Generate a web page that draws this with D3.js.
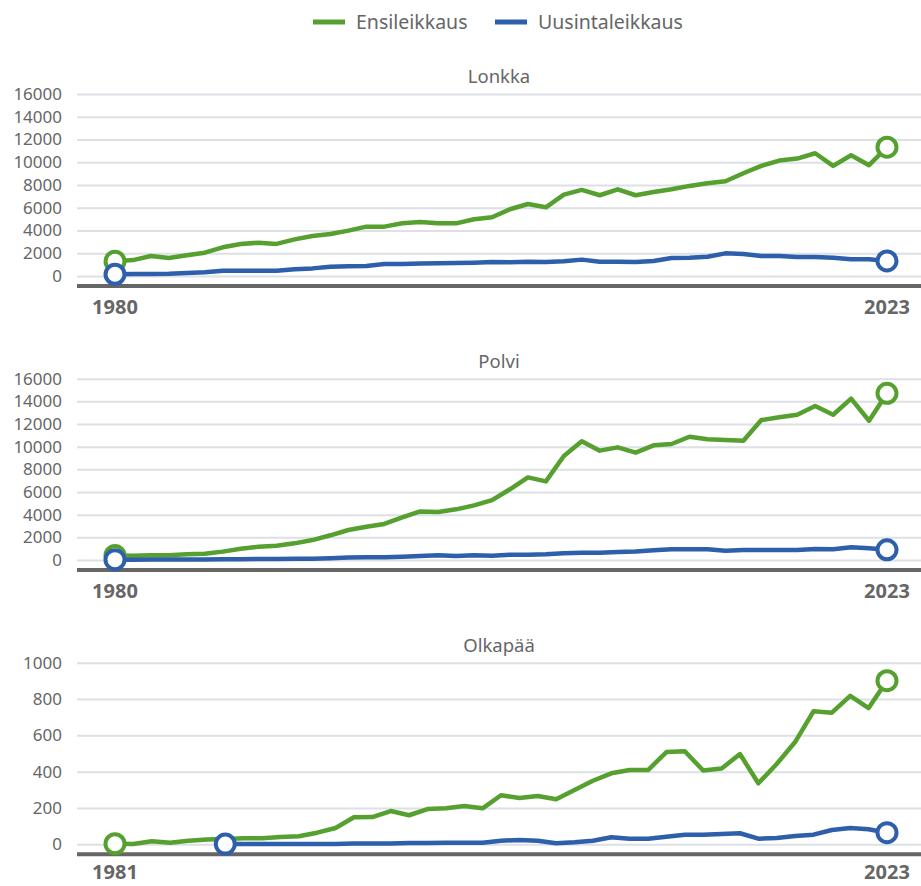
<!DOCTYPE html>
<html>
<head>
<meta charset="utf-8">
<script src="https://cdn.jsdelivr.net/npm/d3@7"></script>
<style>
  body { margin: 0; background: #fff; }
  svg { display: block; font-family: 'Noto Sans', sans-serif; }
</style>
</head>
<body>
<svg id="chart" width="921" height="886"></svg>
<script>
const seriesNames = ['Ensileikkaus', 'Uusintaleikkaus']
const seriesColors = ['#55a02f', '#2e5faa']

const hipYears = d3.range(1980, 2024)
const hipFirst = [1300, 1400, 1760, 1580, 1820, 2050, 2520, 2810, 2930, 2820,
  3220, 3520, 3700, 3990, 4340, 4340, 4630, 4750, 4630, 4630,
  4990, 5160, 5870, 6330, 6040, 7160, 7570, 7100, 7620, 7100,
  7390, 7620, 7920, 8150, 8330, 9030, 9680, 10150, 10320, 10790,
  9680, 10620, 9740, 11320]
const hipRevision = [150, 180, 180, 200, 260, 320, 470, 470, 470, 470,
  590, 670, 820, 850, 880, 1060, 1060, 1090, 1110, 1140,
  1170, 1230, 1200, 1260, 1240, 1290, 1440, 1260, 1260, 1230,
  1320, 1580, 1610, 1700, 1990, 1940, 1760, 1760, 1670, 1670,
  1610, 1470, 1470, 1320]

const kneeYears = d3.range(1980, 2024)
const kneeFirst = [400, 380, 410, 410, 500, 560, 740, 1000, 1180, 1260,
  1470, 1760, 2180, 2650, 2940, 3180, 3760, 4290, 4240, 4470,
  4820, 5290, 6240, 7290, 6940, 9180, 10470, 9650, 9940, 9470,
  10120, 10240, 10880, 10650, 10590, 10530, 12350, 12590, 12820, 13590,
  12820, 14240, 12290, 14710]
const kneeRevision = [30, 30, 35, 35, 40, 40, 60, 60, 90, 90,
  120, 120, 150, 210, 240, 240, 290, 350, 410, 350,
  410, 380, 470, 470, 500, 590, 650, 650, 710, 740,
  850, 940, 940, 940, 820, 880, 880, 880, 880, 970,
  940, 1120, 1030, 900]

const shoulderYears = d3.range(1981, 2024)
const shoulderFirst = [3, 2, 17, 9, 20, 26, 29, 33, 33, 40,
  44, 64, 90, 149, 150, 183, 160, 194, 198, 211,
  198, 270, 255, 266, 248, 299, 350, 391, 409, 409,
  508, 512, 406, 417, 497, 336, 442, 563, 732, 725,
  817, 750, 901]
const shoulderRevision = [null, null, null, null, null, null, 1, 1, 1, 1,
  1, 2, 2, 4, 4, 4, 7, 7, 9, 9,
  9, 20, 24, 20, 6, 11, 20, 39, 31, 31,
  42, 53, 53, 57, 61, 31, 35, 46, 53, 79,
  90, 83, 64]

const hipTicks = [0, 2000, 4000, 6000, 8000, 10000, 12000, 14000, 16000]
const kneeTicks = [0, 2000, 4000, 6000, 8000, 10000, 12000, 14000, 16000]
const shoulderTicks = [0, 200, 400, 600, 800, 1000]

const panels = [
  { title: 'Lonkka', years: hipYears, series: [hipFirst, hipRevision], ticks: hipTicks, top: 94, bottom: 276, labelGap: 38 },
  { title: 'Polvi', years: kneeYears, series: [kneeFirst, kneeRevision], ticks: kneeTicks, top: 378.7, bottom: 560, labelGap: 38 },
  { title: 'Olkapää', years: shoulderYears, series: [shoulderFirst, shoulderRevision], ticks: shoulderTicks, top: 662.7, bottom: 844.3, labelGap: 35 },
]

const svg = d3.select('#chart')
const plotLeft = 77
const plotRight = 921
const textColor = '#666'

// legend
const legend = svg.append('g').attr('class', 'legend')
const legendItems = [{ x: 313 }, { x: 495 }]
legendItems.forEach((item, i) => {
  legend.append('line')
    .attr('x1', item.x).attr('x2', item.x + 32)
    .attr('y1', 22).attr('y2', 22)
    .attr('stroke', seriesColors[i]).attr('stroke-width', 5)
  legend.append('text')
    .attr('x', item.x + 43).attr('y', 29)
    .attr('fill', textColor).attr('font-size', 19.5)
    .text(seriesNames[i])
})

const buildPanel = (panel) => {
  const g = svg.append('g')
  const firstYear = panel.years[0]
  const lastYear = panel.years[panel.years.length - 1]

  const x = d3.scaleLinear().domain([firstYear, lastYear]).range([115, 887])
  const y = d3.scaleLinear()
    .domain([0, panel.ticks[panel.ticks.length - 1]])
    .range([panel.bottom, panel.top])

  g.append('text')
    .attr('x', (plotLeft + plotRight) / 2)
    .attr('y', panel.top - 11)
    .attr('text-anchor', 'middle')
    .attr('fill', textColor).attr('font-size', 18.5)
    .text(panel.title)

  const yAxis = g.append('g')
    .attr('transform', `translate(${plotLeft},0)`)
    .call(d3.axisLeft(y).tickValues(panel.ticks).tickSize(-(plotRight - plotLeft)).tickPadding(15).tickFormat(d3.format('d')))
  yAxis.select('.domain').remove()
  yAxis.selectAll('.tick line').attr('stroke', '#dde0e5').attr('stroke-width', 2)
  yAxis.selectAll('.tick text')
    .attr('fill', textColor).attr('font-size', 17)
    .attr('font-family', "'Noto Sans', sans-serif")

  // baseline bar
  g.append('line')
    .attr('x1', plotLeft).attr('x2', plotRight)
    .attr('y1', panel.bottom + 10).attr('y2', panel.bottom + 10)
    .attr('stroke', '#666').attr('stroke-width', 4)

  g.selectAll('.year-label')
    .data([firstYear, lastYear])
    .join('text')
    .attr('class', 'year-label')
    .attr('x', (d) => x(d))
    .attr('y', panel.bottom + panel.labelGap)
    .attr('text-anchor', 'middle')
    .attr('fill', textColor).attr('font-size', 20).attr('font-weight', 'bold')
    .text((d) => d)

  const line = d3.line()
    .defined((d) => d.value !== null)
    .x((d) => x(d.year))
    .y((d) => y(d.value))

  panel.series.forEach((values, i) => {
    const points = values.map((value, k) => ({ year: panel.years[k], value }))
    const valid = points.filter((d) => d.value !== null)
    g.append('path')
      .datum(points)
      .attr('d', line)
      .attr('fill', 'none')
      .attr('stroke', seriesColors[i])
      .attr('stroke-width', 4.5)
      .attr('stroke-linejoin', 'round')

    g.selectAll(`.end-${i}`)
      .data([valid[0], valid[valid.length - 1]])
      .join('circle')
      .attr('class', `end-${i}`)
      .attr('cx', (d) => x(d.year))
      .attr('cy', (d) => y(d.value))
      .attr('r', 9.5)
      .attr('fill', '#fff')
      .attr('stroke', seriesColors[i])
      .attr('stroke-width', 4)
  })
}

panels.forEach(buildPanel)
</script>
</body>
</html>
